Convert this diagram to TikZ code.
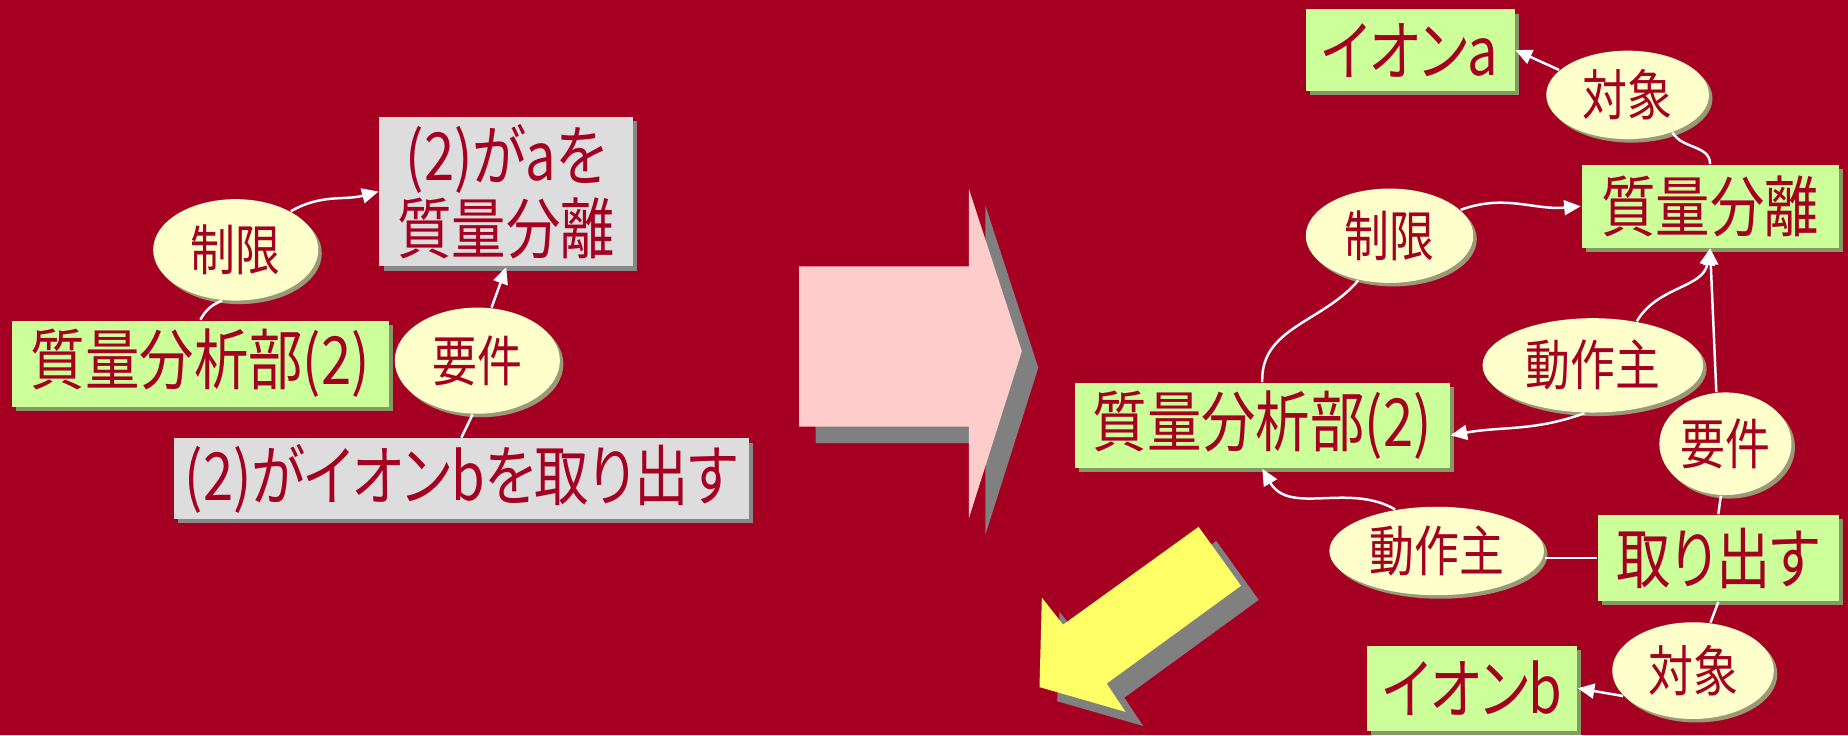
\documentclass[tikz,border=0pt]{standalone}
\usepackage{fontspec}
\newfontfamily\jpfont[FakeStretch=0.82,RawFeature=+palt]{Noto Sans CJK JP}
\usetikzlibrary{shapes.geometric,shadows,arrows.meta}
\definecolor{bgred}{HTML}{A50021}
\definecolor{boxgreen}{HTML}{CCFF99}
\definecolor{greenshade}{HTML}{849966}
\definecolor{ovalyellow}{HTML}{FFFFCC}
\definecolor{ovalshade}{HTML}{999977}
\definecolor{boxgray}{HTML}{DDDDDD}
\definecolor{grayshade}{HTML}{888888}
\definecolor{pinkarrow}{HTML}{FFCCCC}
\definecolor{yellowarrow}{HTML}{FFFF66}
\definecolor{arrowshade}{HTML}{808080}
\begin{document}
\begin{tikzpicture}[x=0.01cm, y=-0.01cm,
    every node/.style={text=bgred, inner sep=0pt, font=\jpfont\fontsize{16}{13.5}\selectfont},
    sz/.style 2 args={minimum width=#1cm, minimum height=#2cm},
    greenbox/.style={rectangle, fill=boxgreen, drop shadow={shadow xshift=0.035cm, shadow yshift=-0.035cm, fill=greenshade, opacity=1}},
    graybox/.style={rectangle, fill=boxgray, align=center, drop shadow={shadow xshift=0.035cm, shadow yshift=-0.035cm, fill=grayshade, opacity=1}},
    oval/.style={ellipse, fill=ovalyellow, font=\jpfont\fontsize{13.2}{14}\selectfont, drop shadow={shadow xshift=0.03cm, shadow yshift=-0.03cm, fill=ovalshade, opacity=1}},
    link/.style={draw=white, line width=0.6pt},
    arr/.style={link, -{Triangle[length=4pt,width=3.6pt]}}]
        \useasboundingbox (0,0) rectangle (1568,624);
        \fill[bgred] (0,0) rectangle (1568,624);
        \foreach \d/\c in {14/arrowshade,0/pinkarrow}
            \fill[\c, shift={(\d,\d)}] (678,226) -- (822,226) -- (822,160) -- (867,298) -- (822,440) -- (822,362) -- (678,362) -- cycle;
        \foreach \dx/\dy/\c in {15/12/arrowshade,0/0/yellowarrow}
            \fill[\c, shift={(\dx,\dy)}] (882,583) -- (884,507) -- (902,530) -- (1017,447) -- (1053,497) -- (939,580) -- (955,604) -- cycle;
        \node[graybox, sz={2.15}{1.27}] (needL) at (429.5,162.5) {(2)がaを\\質量分離};
        \node[oval, sz={1.40}{0.86}] (limL) at (200,212) {制限};
        \node[greenbox, sz={3.20}{0.73}] (unitL) at (170,308.5) {質量分析部(2)};
        \node[oval, sz={1.40}{0.90}] (reqL) at (405,306) {要件};
        \node[graybox, sz={4.87}{0.68}] (takeL) at (391.5,406) {(2)がイオンbを取り出す};
        \node[greenbox, sz={1.77}{0.69}] (ionA) at (1196.5,42.5) {イオンa};
        \node[oval, sz={1.38}{0.75}] (objA) at (1381,80.5) {対象};
        \node[greenbox, sz={2.18}{0.70}] (sep) at (1451,175) {質量分離};
        \node[oval, sz={1.42}{0.80}] (limR) at (1179,200) {制限};
        \node[oval, sz={1.87}{0.80}] (actA) at (1351.5,310) {動作主};
        \node[greenbox, sz={3.18}{0.72}] (unitR) at (1071,361) {質量分析部(2)};
        \node[oval, sz={1.12}{0.87}] (reqR) at (1464,376.5) {要件};
        \node[oval, sz={1.82}{0.75}] (actB) at (1219,467.5) {動作主};
        \node[greenbox, sz={2.04}{0.73}] (take) at (1458,473.5) {取り出す};
        \node[oval, sz={1.37}{0.82}] (objB) at (1436.5,569) {対象};
        \node[greenbox, sz={1.78}{0.72}] (ionB) at (1249,584) {イオンb};
        \draw[link] (unitL.north) to[bend left=20] (limL.255);
        \draw[arr] (limL.35) to[out=30,in=195] (needL.west);
        \draw[link] (takeL.north) -- (reqL.265);
        \draw[arr] (reqL.75) -- (needL.south);
        \draw[arr] (objA.160) -- (ionA.east);
        \draw[link] (sep.north) to[out=90,in=-60] (objA.-40);
        \draw[arr] (limR.20) to[out=20,in=185] (sep.west);
        \draw[link] (unitR.north) to[out=92,in=230] (limR.235);
        \draw[arr] (actA.260) to[out=200,in=10] (unitR.-3);
        \draw[arr] (actA.45) to[out=60,in=-100] (sep.south);
        \draw[arr] (reqR.100) -- (sep.south);
        \draw[link] (take.north) -- (reqR.265);
        \draw[link] (take.west) -- (take.west -| actB.east);
        \draw[arr] (actB.135) to[out=150,in=-60] (unitR.south);
        \draw[link] (take.south) -- (objB.70);
        \draw[arr] (objB.200) -- (ionB.east);
    \end{tikzpicture}
\end{document}
